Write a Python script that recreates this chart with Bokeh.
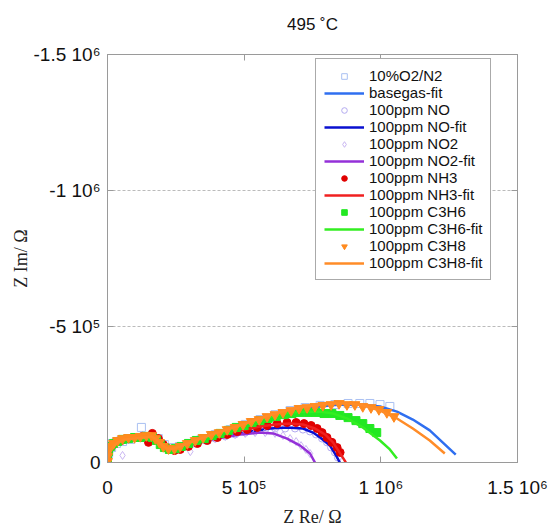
from bokeh.plotting import figure
from bokeh.models import Range1d, FixedTicker, LinearAxis, Legend, LegendItem, Title
from bokeh.embed import file_html
from bokeh.resources import INLINE

# values in kOhm (Z Im negative)
KOHM = 1000.0

base_re = [0, 4, 15, 33, 55, 84, 124, 157, 186, 208, 234, 263, 299, 343, 394, 449, 504, 558, 613, 668, 723, 778, 832, 880, 923, 960, 997, 1033]
base_im = [-4, -33, -55, -70, -77, -85, -129, -92, -88, -66, -55, -59, -70, -85, -103, -121, -140, -158, -176, -191, -202, -210, -213, -217, -217, -217, -213, -206]
basefit_re = [0, 7, 18, 37, 66, 102, 139, 164, 186, 204, 223, 245, 266, 303, 340, 394, 449, 504, 558, 613, 668, 723, 778, 832, 887, 942, 997, 1059, 1117, 1179, 1226, 1274]
basefit_im = [0, -37, -59, -77, -88, -92, -96, -96, -85, -66, -55, -51, -55, -66, -81, -99, -118, -136, -154, -173, -187, -199, -206, -211, -213, -211, -206, -187, -158, -118, -74, -29]

no_re = [0, 4, 11, 26, 44, 69, 99, 131, 157, 179, 197, 215, 237, 259, 288, 321, 358, 394, 431, 467, 504, 540, 577, 613, 650, 686, 715, 741, 763, 785, 803, 818, 832, 843, 0]
no_im = [-26, -51, -66, -77, -85, -88, -92, -92, -96, -88, -74, -59, -51, -55, -62, -70, -81, -88, -96, -103, -110, -118, -121, -125, -125, -125, -121, -114, -103, -88, -74, -55, -37, -18, -73]
nofit_re = [0, 7, 18, 37, 66, 102, 139, 164, 186, 204, 223, 245, 266, 303, 340, 402, 486, 548, 595, 657, 715, 752, 778, 814, 836, 850]
nofit_im = [0, -37, -59, -77, -88, -92, -96, -96, -85, -66, -55, -51, -55, -66, -77, -92, -107, -118, -125, -129, -125, -110, -92, -62, -26, 0]

no2_re = [0, 7, 18, 37, 55, 62, 91, 124, 153, 175, 193, 212, 234, 256, 285, 303, 321, 358, 394, 431, 467, 504, 540, 577, 613, 642, 668, 690, 708, 726, 741]
no2_im = [-44, -62, -74, -81, -26, -85, -88, -92, -92, -85, -70, -55, -48, -51, -59, -40, -70, -81, -88, -96, -103, -107, -110, -110, -107, -99, -88, -77, -62, -48, -33]
no2fit_re = [0, 7, 18, 37, 66, 102, 139, 164, 186, 204, 223, 245, 266, 303, 340, 402, 486, 558, 606, 657, 705, 741, 759]
no2fit_im = [0, -37, -59, -77, -88, -92, -96, -96, -85, -66, -55, -51, -55, -66, -77, -88, -103, -110, -107, -88, -62, -33, 0]

nh3_re = [0, 4, 15, 29, 51, 77, 106, 128, 150, 164, 186, 204, 223, 245, 266, 296, 329, 365, 402, 438, 475, 511, 548, 584, 621, 657, 690, 719, 745, 767, 785, 803, 821, 840, 851]
nh3_im = [-7, -37, -59, -74, -81, -88, -92, -96, -74, -107, -88, -66, -51, -44, -48, -59, -70, -81, -92, -103, -114, -121, -129, -136, -143, -147, -147, -143, -136, -125, -110, -92, -74, -55, -37]
nh3fit_re = [0, 7, 18, 37, 66, 102, 139, 164, 186, 204, 223, 245, 266, 303, 340, 402, 486, 558, 613, 668, 715, 759, 796, 825, 847, 861, 872]
nh3fit_im = [0, -37, -59, -77, -88, -92, -96, -96, -85, -66, -55, -51, -55, -66, -77, -96, -118, -132, -140, -143, -140, -125, -103, -74, -40, -18, 0]

c3h6_re = [0, 0, 4, 11, 22, 37, 55, 77, 99, 120, 142, 164, 179, 193, 208, 226, 248, 270, 296, 325, 354, 383, 412, 442, 471, 500, 529, 558, 588, 617, 646, 675, 704, 734, 763, 792, 821, 850, 880, 909, 934, 960, 985]
c3h6_im = [0, -18, -40, -59, -70, -77, -85, -88, -92, -92, -96, -92, -81, -66, -55, -48, -51, -59, -70, -81, -88, -99, -107, -118, -129, -136, -147, -154, -162, -169, -176, -180, -184, -184, -184, -180, -180, -173, -165, -154, -143, -125, -110]
c3h6fit_re = [0, 4, 15, 33, 62, 99, 135, 161, 183, 201, 219, 241, 266, 303, 340, 394, 449, 504, 558, 613, 668, 723, 778, 825, 876, 934, 997, 1033, 1059]
c3h6fit_im = [0, -29, -55, -74, -85, -88, -92, -96, -85, -66, -55, -51, -59, -70, -85, -103, -121, -140, -158, -173, -184, -187, -187, -180, -162, -129, -81, -48, -15]

c3h8_re = [0, 0, 4, 11, 22, 37, 55, 77, 99, 120, 142, 161, 175, 190, 204, 223, 245, 266, 292, 321, 350, 380, 409, 438, 467, 496, 526, 555, 584, 613, 642, 672, 701, 730, 759, 788, 818, 847, 876, 905, 934, 964, 993, 1022, 1048]
c3h8_im = [-4, -22, -44, -59, -70, -81, -88, -92, -92, -96, -99, -99, -88, -74, -59, -51, -51, -59, -70, -81, -92, -103, -110, -121, -129, -140, -151, -158, -169, -176, -184, -191, -199, -202, -206, -210, -213, -217, -213, -213, -206, -202, -195, -184, -169]
c3h8fit_re = [0, 4, 15, 33, 62, 99, 135, 161, 183, 201, 219, 241, 266, 303, 340, 394, 449, 504, 558, 613, 668, 723, 778, 832, 887, 934, 997, 1059, 1117, 1179, 1234]
c3h8fit_im = [0, -26, -51, -70, -85, -88, -92, -96, -81, -62, -51, -51, -59, -74, -88, -107, -125, -143, -162, -180, -195, -206, -213, -217, -217, -210, -191, -162, -125, -81, -33]

x_ticks = [0, 500000, 1000000, 1500000]
x_tick_labels = ["0", "5 10\u2075", "1 10\u2076", "1.5 10\u2076"]
y_ticks = [0, -500000, -1000000, -1500000]
y_tick_labels = ["0", "-5 10\u2075", "-1 10\u2076", "-1.5 10\u2076"]

title_text = "495 \u02daC"
labels = ["10%O2/N2", "basegas-fit", "100ppm NO", "100ppm NO-fit", "100ppm NO2", "100ppm NO2-fit",
          "100ppm NH3", "100ppm NH3-fit", "100ppm C3H6", "100ppm C3H6-fit", "100ppm C3H8", "100ppm C3H8-fit"]


def k(v):
    return [a * KOHM for a in v]


p = figure(width=554, height=530, output_backend="svg", toolbar_location=None,
           x_range=Range1d(0, 1.5e6), y_range=Range1d(0, -1.5e6),
           min_border_left=107, min_border_right=37, min_border_top=54, min_border_bottom=68)
p.background_fill_color = "white"
p.border_fill_color = "white"
p.outline_line_color = "#9a9a9a"

p.title.text = title_text
p.title.align = "center"
p.title.text_font = "Liberation Sans"
p.title.text_font_size = "17px"
p.title.text_font_style = "normal"
p.title.text_color = "#111111"

AX = "#9a9a9a"
for ax, ticks, labs, name in ((p.xaxis[0], x_ticks, x_tick_labels, "Z Re/ \u03a9"),
                              (p.yaxis[0], y_ticks, y_tick_labels, "Z Im/ \u03a9")):
    ax.ticker = FixedTicker(ticks=ticks)
    ax.major_label_overrides = {t: l for t, l in zip(ticks, labs)}
    ax.axis_label = name
    ax.axis_label_text_font = "Liberation Serif"
    ax.axis_label_text_font_size = "18px"
    ax.axis_label_text_font_style = "normal"
    ax.axis_label_text_color = "#222222"
    ax.major_label_text_font = "Liberation Sans"
    ax.major_label_text_font_size = "19px"
    ax.major_label_text_color = "#111111"
    ax.major_tick_in = 6
    ax.major_tick_out = 0
    ax.minor_tick_line_color = None
    ax.axis_line_color = AX
    ax.major_tick_line_color = AX

p.xaxis[0].major_label_standoff = 14
p.xaxis[0].axis_label_standoff = 6
p.yaxis[0].major_label_standoff = 7
p.yaxis[0].axis_label_standoff = 0

for side, ticks in (("right", y_ticks), ("above", x_ticks)):
    a = LinearAxis(ticker=FixedTicker(ticks=ticks), major_label_text_font_size="0px",
                   major_tick_in=6, major_tick_out=0, minor_tick_line_color=None,
                   axis_line_color=AX, major_tick_line_color=AX)
    a.major_label_overrides = {t: "" for t in ticks}
    p.add_layout(a, side)

# blank spacer between frame and title
p.add_layout(Title(text=" ", text_font_size="12px", standoff=0), "above")

p.xgrid.visible = False
p.ygrid.ticker = FixedTicker(ticks=y_ticks)
p.ygrid.grid_line_color = "#bbbbbb"
p.ygrid.grid_line_dash = "3 2"
p.ygrid.grid_line_width = 1

LW = 2.5
r = []
r.append(p.scatter(k(base_re), k(base_im), marker="square", size=8, fill_color=None,
                   line_color="#a9c0f2", line_width=1))
r.append(p.line(k(basefit_re), k(basefit_im), line_color="#2f6ff0", line_width=LW))
r.append(p.scatter(k(no_re), k(no_im), marker="circle", size=7, fill_color=None,
                   line_color="#b3aaf0", line_width=1))
r.append(p.line(k(nofit_re), k(nofit_im), line_color="#0a10d0", line_width=LW))
r.append(p.scatter(k(no2_re), k(no2_im), marker="diamond", size=8, fill_color=None,
                   line_color="#c9b6f2", line_width=1))
r.append(p.line(k(no2fit_re), k(no2fit_im), line_color="#9430d8", line_width=LW))
r.append(p.scatter(k(nh3_re), k(nh3_im), marker="circle", size=8, fill_color="#e00000",
                   line_color="#e00000"))
r.append(p.line(k(nh3fit_re), k(nh3fit_im), line_color="#f02020", line_width=LW))
r.append(p.scatter(k(c3h6_re), k(c3h6_im), marker="square", size=8, fill_color="#22e822",
                   line_color="#22e822"))
r.append(p.line(k(c3h6fit_re), k(c3h6fit_im), line_color="#33ee22", line_width=LW))
r.append(p.scatter(k(c3h8_re), k(c3h8_im), marker="inverted_triangle", size=10, fill_color="#ff8a1e",
                   line_color="#ff8a1e"))
r.append(p.line(k(c3h8fit_re), k(c3h8fit_im), line_color="#ff8c28", line_width=LW))

items = [LegendItem(label=lab, renderers=[rr]) for lab, rr in zip(labels, r)]
legend = Legend(items=items, location=(208, 182), orientation="vertical")
legend.label_text_font = "Liberation Sans"
legend.label_text_font_size = "15px"
legend.label_text_color = "#111111"
legend.glyph_width = 40
legend.glyph_height = 14
legend.label_height = 14
legend.label_standoff = 5
legend.spacing = 0
legend.padding = 8
legend.margin = 0
legend.border_line_color = "#555555"
legend.border_line_width = 1
legend.background_fill_color = "white"
legend.background_fill_alpha = 1.0
p.add_layout(legend, "center")

open("out.html", "w").write(file_html(p, INLINE))
